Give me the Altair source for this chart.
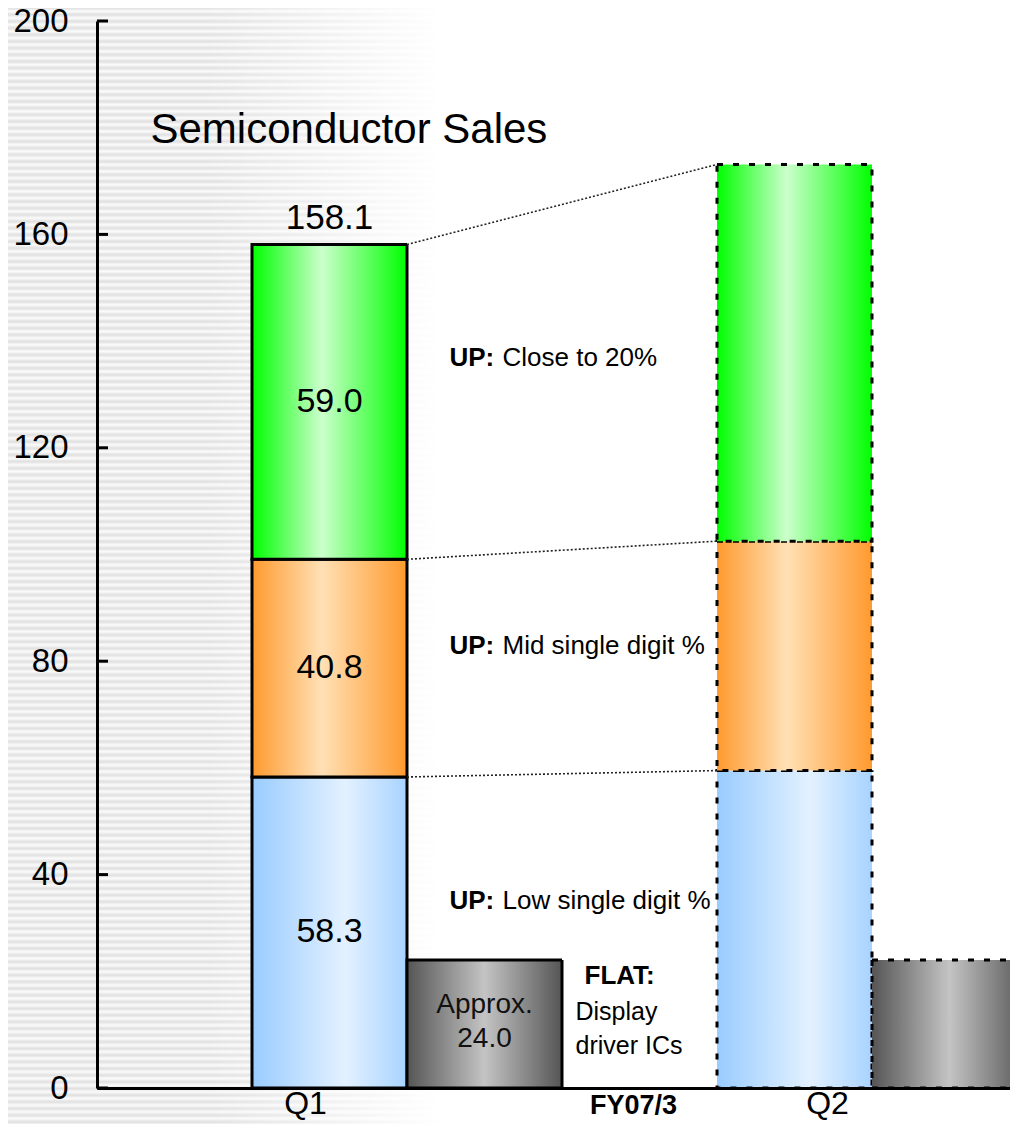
import altair as alt
import pandas as pd

# ---------------- data ----------------
slots = ["lead", "Q1", "Q1 DDI", "gap", "Q2", "Q2 DDI"]
quarters = ["Q1", "Q2"]
stack_slots = ["Q1", "Q2"]
ddi_slots = ["Q1 DDI", "Q2 DDI"]
blue_vals = [58.3, 59.5]
orange_vals = [40.8, 43.0]
green_vals = [59.0, 70.6]
ddi_vals = [24.0, 24.0]
q1_total = 158.1
y_ticks = [0, 40, 80, 120, 160, 200]

title_text = "Semiconductor Sales"
up_bold = ["UP:", "UP:", "UP:"]
up_texts = ["Close to 20%", "Mid single digit %", "Low single digit %"]
up_y = [136.8, 82.9, 35.0]
flat_title = "FLAT:"
flat_text = "Display\ndriver ICs"
ddi_label = "Approx.\n24.0"
fy_label = "FY07/3"

FONT = "Liberation Sans"

# ---------------- tables ----------------
seg_rows = []
for i, q in enumerate(quarters):
    b, o, g = blue_vals[i], orange_vals[i], green_vals[i]
    seg_rows.append(dict(slot=stack_slots[i], quarter=q, seg="blue", value=b, y0=0, y1=b))
    seg_rows.append(dict(slot=stack_slots[i], quarter=q, seg="orange", value=o, y0=b, y1=b + o))
    seg_rows.append(dict(slot=stack_slots[i], quarter=q, seg="green", value=g, y0=b + o, y1=b + o + g))
    seg_rows.append(dict(slot=ddi_slots[i], quarter=q, seg="ddi", value=ddi_vals[i], y0=0, y1=ddi_vals[i]))
segs = pd.DataFrame(seg_rows)
segs["mid"] = (segs["y0"] + segs["y1"]) / 2

q1_tops = [blue_vals[0], blue_vals[0] + orange_vals[0], blue_vals[0] + orange_vals[0] + green_vals[0]]
q2_tops = [blue_vals[1], blue_vals[1] + orange_vals[1], blue_vals[1] + orange_vals[1] + green_vals[1]]
links = pd.DataFrame({"src": ["Q1"] * 3, "dst": ["Q2"] * 3, "ya": q1_tops, "yb": q2_tops})

up_df = pd.DataFrame({"slot": ["Q1 DDI"] * 3, "b": up_bold, "t": up_texts, "y": up_y})

# ---------------- scales / axes ----------------
xscale = alt.Scale(domain=slots, paddingInner=0, paddingOuter=0, range=[0, 930])
yscale = alt.Scale(domain=[0, 200], nice=False, zero=True)
xaxis = alt.Axis(title=None, labels=False, ticks=False, grid=False, domainWidth=3,
                 domainColor="black", zindex=2)
yaxis = alt.Axis(title=None, values=y_ticks, grid=False, tickSize=0, labelPadding=29,
                 labelFontSize=33, labelColor="black", labelFont=FONT, domainWidth=3,
                 domainColor="black", zindex=2)


def grad(stops, vertical=False):
    return alt.Gradient(
        gradient="linear",
        stops=[alt.GradientStop(color=c, offset=o) for o, c in stops],
        x1=0, y1=0, x2=0 if vertical else 1, y2=1 if vertical else 0,
    )


# ---------------- background stripes ----------------
H = 1130.0
p = 6.67
stripe_stops = []
k = 0
while k * p <= H:
    stripe_stops.append((k * p / H, "#e0e0e0"))
    if k * p + p / 2 <= H:
        stripe_stops.append(((k * p + p / 2) / H, "#fbfbfb"))
    k += 1

dummy = pd.DataFrame({"k": [0]})
bg = alt.Chart(dummy).mark_rect(fill=grad(stripe_stops, vertical=True)).encode(
    x=alt.value(-89), x2=alt.value(343), y=alt.value(-13), y2=alt.value(1117)
)
fade = alt.Chart(dummy).mark_rect(
    fill=grad([(0, "rgba(255,255,255,0)"), (0.46, "rgba(255,255,255,0)"), (1, "rgba(255,255,255,1)")])
).encode(x=alt.value(-89), x2=alt.value(344), y=alt.value(-13), y2=alt.value(1117))

# ---------------- bars ----------------
fills = {
    "blue": grad([(0, "#99ccff"), (0.6, "#e3f1ff"), (1, "#a8d3ff")]),
    "orange": grad([(0, "#ff9a2e"), (0.45, "#ffe0b5"), (1, "#ff9a2e")]),
    "green": grad([(0, "#00ff00"), (0.45, "#ccffcc"), (1, "#00ff00")]),
    "ddi": grad([(0, "#555555"), (0.5, "#c4c4c4"), (1, "#555555")]),
}
dash = alt.StrokeDash("quarter:N", scale=alt.Scale(domain=quarters, range=[[1, 0], [6, 10]]), legend=None)

bar_layers = []
for s in ["blue", "orange", "green", "ddi"]:
    bar_layers.append(
        alt.Chart(segs[segs["seg"] == s]).mark_bar(fill=fills[s], stroke="black", strokeWidth=3).encode(
            x=alt.X("slot:N", scale=xscale, axis=xaxis),
            y=alt.Y("y0:Q", scale=yscale, axis=yaxis),
            y2="y1:Q",
            strokeDash=dash,
        )
    )

# ---------------- connecting dotted lines ----------------
rules = alt.Chart(links).mark_rule(color="#222222", strokeWidth=1.6, strokeDash=[2, 2]).encode(
    x=alt.X("src:N", scale=xscale, axis=xaxis, bandPosition=1),
    x2=alt.X2("dst:N", bandPosition=0),
    y=alt.Y("ya:Q", scale=yscale, axis=yaxis),
    y2="yb:Q",
)

# ---------------- inward y ticks ----------------
ticks = alt.Chart(pd.DataFrame({"v": y_ticks})).mark_rule(color="black", strokeWidth=3).encode(
    y=alt.Y("v:Q", scale=yscale, axis=yaxis), x=alt.value(0), x2=alt.value(11)
)

# ---------------- texts ----------------
seg_labels = alt.Chart(segs[(segs["quarter"] == "Q1") & (segs["seg"] != "ddi")]).mark_text(
    font=FONT, fontSize=34, color="black", baseline="middle"
).encode(
    x=alt.X("slot:N", scale=xscale, axis=xaxis),
    y=alt.Y("mid:Q", scale=yscale, axis=yaxis),
    text=alt.Text("value:Q", format=".1f"),
)

total_label = alt.Chart(dummy).mark_text(
    font=FONT, fontSize=35, color="black", baseline="alphabetic", dy=-16
).encode(
    x=alt.X(datum="Q1", scale=xscale, axis=xaxis),
    y=alt.Y(datum=q1_total, scale=yscale, axis=yaxis),
    text=alt.value(f"{q1_total:.1f}"),
)

ddi_text = alt.Chart(dummy).mark_text(
    font=FONT, fontSize=28, color="#111111", baseline="middle", lineBreak="\n", lineHeight=34, dy=-19
).encode(
    x=alt.X(datum="Q1 DDI", scale=xscale, axis=xaxis),
    y=alt.Y(datum=ddi_vals[0] / 2, scale=yscale, axis=yaxis),
    text=alt.value(ddi_label),
)

title = alt.Chart(dummy).mark_text(
    font=FONT, fontSize=42, color="black", baseline="middle", align="left", dx=-24
).encode(
    x=alt.X(datum="lead", scale=xscale, axis=xaxis),
    y=alt.Y(datum=179.5, scale=yscale, axis=yaxis),
    text=alt.value(title_text),
)

up_b = alt.Chart(up_df).mark_text(
    font=FONT, fontSize=26, fontWeight="bold", color="black", baseline="middle", align="left", dx=-35
).encode(
    x=alt.X("slot:N", scale=xscale, axis=xaxis),
    y=alt.Y("y:Q", scale=yscale, axis=yaxis),
    text="b:N",
)
up_t = alt.Chart(up_df).mark_text(
    font=FONT, fontSize=26, color="black", baseline="middle", align="left", dx=18
).encode(
    x=alt.X("slot:N", scale=xscale, axis=xaxis),
    y=alt.Y("y:Q", scale=yscale, axis=yaxis),
    text="t:N",
)

flat_b = alt.Chart(dummy).mark_text(
    font=FONT, fontSize=26, fontWeight="bold", color="black", baseline="middle", align="left", dx=-55
).encode(
    x=alt.X(datum="gap", scale=xscale, axis=xaxis),
    y=alt.Y(datum=20.95, scale=yscale, axis=yaxis),
    text=alt.value(flat_title),
)
flat_t = alt.Chart(dummy).mark_text(
    font=FONT, fontSize=25, color="black", baseline="middle", align="left", dx=-64,
    lineBreak="\n", lineHeight=34, dy=-17
).encode(
    x=alt.X(datum="gap", scale=xscale, axis=xaxis),
    y=alt.Y(datum=11.0, scale=yscale, axis=yaxis),
    text=alt.value(flat_text),
)

q1_lab = alt.Chart(dummy).mark_text(font=FONT, fontSize=32, color="black", baseline="alphabetic", dx=-24).encode(
    x=alt.X(datum="Q1", scale=xscale, axis=xaxis),
    y=alt.Y(datum=-4.8, scale=yscale, axis=yaxis),
    text=alt.value("Q1"),
)
q2_lab = alt.Chart(dummy).mark_text(font=FONT, fontSize=32, color="black", baseline="alphabetic", dx=33).encode(
    x=alt.X(datum="Q2", scale=xscale, axis=xaxis),
    y=alt.Y(datum=-4.8, scale=yscale, axis=yaxis),
    text=alt.value("Q2"),
)
fy_lab = alt.Chart(dummy).mark_text(
    font=FONT, fontSize=27, fontWeight="bold", color="black", baseline="alphabetic", dx=-6
).encode(
    x=alt.X(datum="gap", scale=xscale, axis=xaxis),
    y=alt.Y(datum=-4.8, scale=yscale, axis=yaxis),
    text=alt.value(fy_label),
)

chart = alt.layer(
    bg, fade, *bar_layers, rules, ticks, seg_labels, total_label, ddi_text, title,
    up_b, up_t, flat_b, flat_t, q1_lab, q2_lab, fy_lab
).properties(
    width=913, height=1067,
    padding={"left": 89, "top": 13, "right": 0, "bottom": 36},
    autosize="none",
    background="white",
).configure(
    font=FONT,
    view=alt.ViewConfig(strokeWidth=0, stroke="transparent"),
)

chart.save("out.html", embed_options={"renderer": "svg", "actions": False})
